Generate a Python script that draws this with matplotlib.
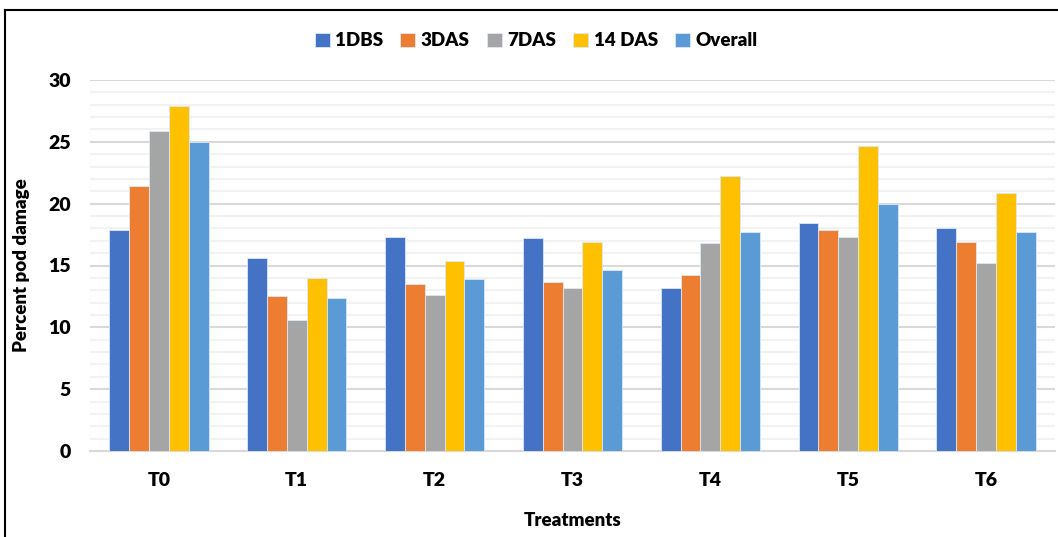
import numpy as np
import matplotlib
matplotlib.use("Agg")
import matplotlib.pyplot as plt
from matplotlib.lines import Line2D
from matplotlib.ticker import MultipleLocator

plt.rcParams['font.family'] = ['Lato', 'DejaVu Sans']
plt.rcParams['font.weight'] = 'heavy'

treatments = ['T0', 'T1', 'T2', 'T3', 'T4', 'T5', 'T6']
series_names = ['1DBS', '3DAS', '7DAS', '14 DAS', 'Overall']
dbs1 = [17.9, 15.6, 17.3, 17.2, 13.2, 18.4, 18.0]
das3 = [21.4, 12.5, 13.5, 13.7, 14.2, 17.9, 16.9]
das7 = [25.9, 10.6, 12.6, 13.2, 16.8, 17.3, 15.2]
das14 = [27.9, 14.0, 15.4, 16.9, 22.2, 24.7, 20.9]
overall = [25.0, 12.4, 13.9, 14.6, 17.7, 20.0, 17.7]
colors = ['#4472C4', '#ED7D31', '#A5A5A5', '#FFC000', '#5B9BD5']

fig = plt.figure(figsize=(10.58, 5.37), dpi=100)
ax = fig.add_axes([90/1058, 86/537, 965/1058, 371/537])

x = np.arange(len(treatments))
w = 0.144
all_series = [dbs1, das3, das7, das14, overall]
for i, (vals, name, c) in enumerate(zip(all_series, series_names, colors)):
    ax.bar(x + (i - 2) * w, vals, w, color=c, label=name,
           edgecolor='#DDE8F5', linewidth=0.6, zorder=3)

ax.set_xlim(-0.5, len(treatments) - 0.5)
ax.set_ylim(0, 30)
ax.yaxis.set_major_locator(MultipleLocator(5))
ax.yaxis.set_minor_locator(MultipleLocator(1))
ax.grid(axis='y', which='major', color='#D9D9D9', linewidth=1.5, zorder=0)
ax.grid(axis='y', which='minor', color='#F2F2F2', linewidth=1.5, zorder=0)
for s in ['top', 'right', 'left']:
    ax.spines[s].set_visible(False)
ax.spines['bottom'].set_color('#D9D9D9')
ax.spines['bottom'].set_linewidth(1.5)
ax.tick_params(axis='both', which='both', length=0)
ax.tick_params(axis='y', labelsize=14, pad=14)
ax.tick_params(axis='x', labelsize=14, pad=15)
ax.set_xticks(x)
ax.set_xticklabels(treatments, fontweight='heavy')
for t in ax.get_yticklabels():
    t.set_fontweight('heavy')

ax.set_ylabel('Percent pod damage', fontsize=13.5, fontweight='heavy', labelpad=13)
ax.set_xlabel('Treatments', fontsize=13.5, fontweight='heavy', labelpad=17)

fig.legend(loc='center', bbox_to_anchor=(536/1058, 1 - 41/537), ncol=5,
           frameon=False, prop={'size': 13.5, 'weight': 'heavy'},
           handlelength=0.8, handleheight=0.8,
           handletextpad=0.3, columnspacing=0.9)

# outer chart frame (left and top edges visible)
fig.add_artist(Line2D([4.5/1058, 4.5/1058], [0, 1 - 10/537], color='black',
                      linewidth=1.5, transform=fig.transFigure))
fig.add_artist(Line2D([4.5/1058, 1], [1 - 10/537, 1 - 10/537], color='black',
                      linewidth=1.5, transform=fig.transFigure))

fig.savefig('out.png', dpi=100)
